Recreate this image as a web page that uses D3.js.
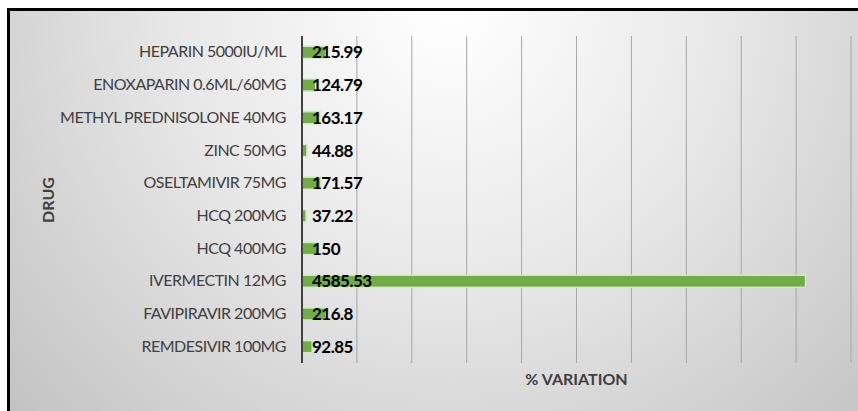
<!DOCTYPE html>
<html>
<head>
<meta charset="utf-8">
<script src="https://cdn.jsdelivr.net/npm/d3@7"></script>
<style>
  html, body { margin: 0; padding: 0; background: #ffffff; }
  svg { display: block; }
</style>
</head>
<body>
<svg id="chart" width="858" height="411"></svg>
<script>
// Drug names, top to bottom
const drugs = [
  "HEPARIN 5000IU/ML",
  "ENOXAPARIN 0.6ML/60MG",
  "METHYL PREDNISOLONE 40MG",
  "ZINC 50MG",
  "OSELTAMIVIR 75MG",
  "HCQ 200MG",
  "HCQ 400MG",
  "IVERMECTIN 12MG",
  "FAVIPIRAVIR 200MG",
  "REMDESIVIR 100MG"
];
// Percentage variation for each drug
const variation = [215.99, 124.79, 163.17, 44.88, 171.57, 37.22, 150, 4585.53, 216.8, 92.85];
// Printed value labels
const valueLabels = ["215.99", "124.79", "163.17", "44.88", "171.57", "37.22", "150", "4585.53", "216.8", "92.85"];
// Gridline positions on the value axis
const gridTicks = [500, 1000, 1500, 2000, 2500, 3000, 3500, 4000, 4500, 5000];

const rows = drugs.map((d, i) => ({ drug: d, value: variation[i], label: valueLabels[i] }));

const svg = d3.select("#chart");
const W = 858, H = 411;

// Chart area background: radial grey gradient inside a black frame
const defs = svg.append("defs");
const grad = defs.append("radialGradient")
  .attr("id", "bg")
  .attr("gradientUnits", "userSpaceOnUse")
  .attr("cx", 450).attr("cy", 10).attr("r", 600);
grad.append("stop").attr("offset", 0).attr("stop-color", "#ffffff");
grad.append("stop").attr("offset", 0.45).attr("stop-color", "#e8e8e8");
grad.append("stop").attr("offset", 1).attr("stop-color", "#c2c2c2");

svg.append("rect")
  .attr("x", 8.5).attr("y", 9.5)
  .attr("width", W + 20).attr("height", H + 20)
  .attr("fill", "url(#bg)")
  .attr("stroke", "#000000")
  .attr("stroke-width", 3);

// Scales
const x = d3.scaleLinear().domain([0, 5000]).range([302, 851]);
const y = d3.scaleBand().domain(drugs).range([36, 363]).paddingInner(0.63).paddingOuter(0.315);

// Vertical gridlines
svg.append("g")
  .selectAll("line")
  .data(gridTicks)
  .join("line")
  .attr("x1", d => x(d)).attr("x2", d => x(d))
  .attr("y1", 36).attr("y2", 363)
  .attr("stroke", "#a6a6a6")
  .attr("stroke-width", 1);

// Bars
svg.append("g")
  .selectAll("rect")
  .data(rows)
  .join("rect")
  .attr("x", x(0))
  .attr("y", d => y(d.drug))
  .attr("width", d => x(d.value) - x(0))
  .attr("height", y.bandwidth())
  .attr("fill", "#70ad47")
  .attr("stroke", "#d3e8c6")
  .attr("stroke-width", 1.5);

// Category axis
const yAxis = svg.append("g")
  .attr("transform", `translate(${x(0)},0)`)
  .call(d3.axisLeft(y).tickSize(0).tickPadding(16));
yAxis.select(".domain")
  .attr("d", "M0,36V363")
  .attr("stroke", "#404040")
  .attr("stroke-width", 2);
yAxis.selectAll("text")
  .attr("font-family", "Lato, 'Open Sans', sans-serif")
  .attr("font-size", 16)
  .attr("fill", "#404040")
  .attr("letter-spacing", -0.5);

// Value labels at the base of each bar
svg.append("g")
  .selectAll("text")
  .data(rows)
  .join("text")
  .attr("x", x(0) + 10)
  .attr("y", d => y(d.drug) + y.bandwidth() / 2)
  .attr("dy", "0.36em")
  .attr("font-family", "Lato, 'Open Sans', sans-serif")
  .attr("font-weight", 700)
  .attr("font-size", 17)
  .attr("letter-spacing", -0.5)
  .attr("fill", "#000000")
  .text(d => d.label);

// Axis titles
svg.append("text")
  .attr("transform", "translate(48,200) rotate(-90)")
  .attr("text-anchor", "middle")
  .attr("dy", "0.36em")
  .attr("font-family", "Lato, 'Open Sans', sans-serif")
  .attr("font-weight", 700)
  .attr("font-size", 16)
  .attr("fill", "#404040")
  .text("DRUG");

svg.append("text")
  .attr("x", (x(0) + x(5000)) / 2)
  .attr("y", 379)
  .attr("text-anchor", "middle")
  .attr("dy", "0.36em")
  .attr("font-family", "Lato, 'Open Sans', sans-serif")
  .attr("font-weight", 700)
  .attr("font-size", 16)
  .attr("fill", "#404040")
  .text("% VARIATION");
</script>
</body>
</html>
